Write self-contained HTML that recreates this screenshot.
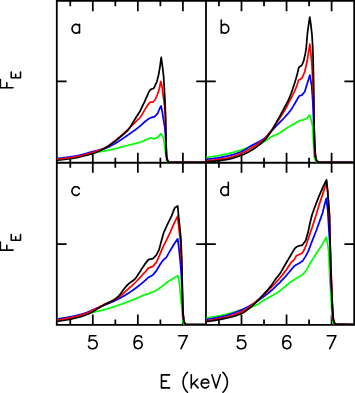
<!DOCTYPE html>
<html><head><meta charset="utf-8"><title>F_E line profiles</title>
<style>
html,body{margin:0;padding:0;background:#fff;font-family:"Liberation Sans",sans-serif;}
svg{display:block}
</style></head><body>
<svg width="355" height="393" viewBox="0 0 355 393">
<rect width="355" height="393" fill="#fff"/>
<defs>
<clipPath id="cpa"><rect x="56.80" y="0.75" width="149.20" height="162.00"/></clipPath>
<clipPath id="cpb"><rect x="206.00" y="0.75" width="148.20" height="162.00"/></clipPath>
<clipPath id="cpc"><rect x="56.80" y="162.75" width="149.20" height="162.15"/></clipPath>
<clipPath id="cpd"><rect x="206.00" y="162.75" width="148.20" height="162.15"/></clipPath>
<filter id="bl" x="-0.05" y="-0.05" width="1.1" height="1.1"><feGaussianBlur stdDeviation="0.25"/></filter>
</defs>
<g stroke="#000" stroke-width="1.80" fill="none" stroke-linecap="butt">
<path d="M55.90 0.75 H355.10 M56.80 162.75 H354.20 M55.90 324.90 H355.10"/>
<path d="M56.80 0.75 V324.90 M206.00 0.75 V324.90 M354.20 0.75 V324.90"/>
</g>
<g stroke="#000" stroke-width="1.75" fill="none" stroke-linecap="butt">
<path d="M70.28 0.75 V6.25 M70.28 157.85 V167.65 M70.28 324.90 V319.60 M92.80 0.75 V11.35 M92.80 152.75 V172.75 M92.80 324.90 V314.50 M115.32 0.75 V6.25 M115.32 157.85 V167.65 M115.32 324.90 V319.60 M137.85 0.75 V11.35 M137.85 152.75 V172.75 M137.85 324.90 V314.50 M160.38 0.75 V6.25 M160.38 157.85 V167.65 M160.38 324.90 V319.60 M182.90 0.75 V11.35 M182.90 152.75 V172.75 M182.90 324.90 V314.50 M218.97 0.75 V6.25 M218.97 157.85 V167.65 M218.97 324.90 V319.60 M241.50 0.75 V11.35 M241.50 152.75 V172.75 M241.50 324.90 V314.50 M264.02 0.75 V6.25 M264.02 157.85 V167.65 M264.02 324.90 V319.60 M286.55 0.75 V11.35 M286.55 152.75 V172.75 M286.55 324.90 V314.50 M309.07 0.75 V6.25 M309.07 157.85 V167.65 M309.07 324.90 V319.60 M331.60 0.75 V11.35 M331.60 152.75 V172.75 M331.60 324.90 V314.50 M56.80 81.40 H66.60 M196.20 81.40 H215.80 M354.20 81.40 H344.40 M56.80 244.00 H66.60 M196.20 244.00 H215.80 M354.20 244.00 H344.40"/>
</g>
<g clip-path="url(#cpa)" filter="url(#bl)" fill="none" stroke-width="1.75" stroke-linejoin="round" stroke-linecap="butt">
<polyline stroke="#00ff00" points="56.8,159.2 57.8,159.1 58.8,159.0 59.8,158.9 60.8,158.8 61.8,158.7 62.8,158.6 63.8,158.5 64.8,158.3 65.8,158.2 66.8,158.1 67.8,158.0 68.8,157.9 69.8,157.7 70.8,157.6 71.8,157.5 72.8,157.3 73.8,157.2 74.8,157.0 75.8,156.9 76.8,156.7 77.8,156.5 78.8,156.2 79.8,156.0 80.8,155.8 81.8,155.6 82.8,155.3 83.8,155.1 84.8,154.9 85.8,154.6 86.8,154.4 87.8,154.1 88.8,153.9 89.8,153.7 90.8,153.4 91.8,153.2 92.8,153.0 93.8,152.8 94.8,152.6 95.8,152.5 96.8,152.3 97.8,152.1 98.8,152.0 99.8,151.8 100.8,151.6 101.8,151.4 102.8,151.2 103.8,151.1 104.8,150.9 105.8,150.7 106.8,150.5 107.8,150.3 108.8,150.1 109.8,149.9 110.8,149.7 111.8,149.5 112.8,149.2 113.8,149.0 114.8,148.8 115.8,148.5 116.8,148.3 117.8,148.0 118.8,147.8 119.8,147.5 120.8,147.2 121.8,146.9 122.8,146.6 123.8,146.3 124.8,146.1 125.8,145.8 126.8,145.5 127.8,145.3 128.8,145.0 129.8,144.8 130.8,144.5 131.8,144.3 132.8,144.1 133.8,143.9 134.8,143.6 135.8,143.4 136.8,143.2 137.8,142.9 138.8,142.6 139.8,142.3 140.8,142.0 141.8,141.6 142.8,141.2 143.8,140.7 144.8,140.3 145.8,139.9 146.8,139.5 147.8,139.0 148.8,138.6 149.8,138.2 150.7,137.8 153.5,138.8 156.9,137.9 159.2,135.7 161.1,133.6 163.3,137.7 164.6,145.6 165.8,154.6 166.8,160.8 168.2,162.2 206.0,162.4"/>
<polyline stroke="#0000ff" points="56.8,158.6 57.8,158.4 58.8,158.3 59.8,158.2 60.8,158.1 61.8,158.0 62.8,157.9 63.8,157.7 64.8,157.6 65.8,157.5 66.8,157.3 67.8,157.2 68.8,157.1 69.8,157.0 70.8,156.8 71.8,156.7 72.8,156.6 73.8,156.4 74.8,156.2 75.8,156.1 76.8,155.9 77.8,155.6 78.8,155.4 79.8,155.2 80.8,154.9 81.8,154.7 82.8,154.4 83.8,154.2 84.8,153.9 85.8,153.6 86.8,153.3 87.8,153.0 88.8,152.7 89.8,152.4 90.8,152.2 91.8,151.9 92.8,151.6 93.8,151.3 94.8,151.1 95.8,150.9 96.8,150.6 97.8,150.4 98.8,150.2 99.8,149.9 100.8,149.6 101.8,149.4 102.8,149.1 103.8,148.8 104.8,148.5 105.8,148.2 106.8,147.8 107.8,147.3 108.8,146.9 109.8,146.4 110.8,145.8 111.8,145.3 112.8,144.8 113.8,144.2 114.8,143.7 115.8,143.1 116.8,142.5 117.8,141.9 118.8,141.2 119.8,140.6 120.8,139.9 121.8,139.3 122.8,138.6 123.8,137.9 124.8,137.2 125.8,136.5 126.8,135.8 127.8,135.1 128.8,134.4 129.8,133.7 130.8,133.0 131.8,132.3 132.8,131.6 133.8,130.9 134.8,130.2 135.8,129.4 136.8,128.7 137.8,127.9 138.8,127.1 139.8,126.3 140.8,125.5 141.8,124.5 142.8,123.6 143.8,122.6 144.8,121.8 145.8,121.0 146.8,120.2 147.8,119.5 148.8,118.8 149.8,118.3 150.8,117.8 151.8,117.4 152.8,117.1 153.8,116.8 154.6,116.6 157.5,113.7 159.7,108.5 161.1,106.0 162.3,112.0 163.7,121.0 164.9,128.2 165.9,142.2 166.5,155.7 167.3,159.8 168.9,162.2 206.0,162.4"/>
<polyline stroke="#ff0000" points="56.8,159.5 57.8,159.4 58.8,159.3 59.8,159.2 60.8,159.1 61.8,159.0 62.8,158.8 63.8,158.7 64.8,158.6 65.8,158.5 66.8,158.4 67.8,158.2 68.8,158.1 69.8,158.0 70.8,157.8 71.8,157.7 72.8,157.6 73.8,157.4 74.8,157.2 75.8,157.1 76.8,156.8 77.8,156.6 78.8,156.4 79.8,156.1 80.8,155.9 81.8,155.6 82.8,155.4 83.8,155.1 84.8,154.8 85.8,154.6 86.8,154.3 87.8,154.0 88.8,153.8 89.8,153.5 90.8,153.2 91.8,152.9 92.8,152.6 93.8,152.2 94.8,151.9 95.8,151.5 96.8,151.1 97.8,150.8 98.8,150.4 99.8,150.0 100.8,149.6 101.8,149.2 102.8,148.8 103.8,148.4 104.8,147.9 105.8,147.4 106.8,146.8 107.8,146.1 108.8,145.5 109.8,144.8 110.8,144.0 111.8,143.3 112.8,142.5 113.8,141.7 114.8,141.0 115.8,140.2 116.8,139.4 117.8,138.5 118.8,137.7 119.8,136.9 120.8,136.0 121.8,135.1 122.8,134.2 123.8,133.3 124.8,132.4 125.8,131.5 126.8,130.6 127.8,129.6 128.8,128.7 129.8,127.7 130.8,126.7 131.8,125.7 132.8,124.7 133.8,123.7 134.8,122.7 135.8,121.6 136.8,120.7 137.8,119.7 138.8,118.8 139.8,117.8 140.8,116.5 141.8,114.9 142.8,113.2 143.8,111.4 144.8,109.8 145.8,108.1 146.8,106.4 147.8,104.9 148.8,103.7 149.8,102.7 150.7,102.0 153.0,102.0 155.2,99.5 157.5,94.5 159.4,88.2 160.8,81.5 162.3,88.2 163.4,97.2 164.6,106.2 165.4,118.2 165.8,130.2 166.1,142.2 166.6,155.7 167.3,159.8 168.9,162.2 206.0,162.4"/>
<polyline stroke="#000000" points="56.8,160.2 57.8,160.1 58.8,160.0 59.8,159.9 60.8,159.8 61.8,159.7 62.8,159.6 63.8,159.5 64.8,159.3 65.8,159.2 66.8,159.1 67.8,159.0 68.8,158.9 69.8,158.7 70.8,158.6 71.8,158.5 72.8,158.3 73.8,158.2 74.8,158.0 75.8,157.8 76.8,157.6 77.8,157.4 78.8,157.2 79.8,156.9 80.8,156.7 81.8,156.4 82.8,156.2 83.8,155.9 84.8,155.6 85.8,155.4 86.8,155.1 87.8,154.9 88.8,154.6 89.8,154.4 90.8,154.1 91.8,153.8 92.8,153.5 93.8,153.1 94.8,152.8 95.8,152.4 96.8,151.9 97.8,151.5 98.8,151.1 99.8,150.6 100.8,150.2 101.8,149.7 102.8,149.3 103.8,148.8 104.8,148.3 105.8,147.7 106.8,147.1 107.8,146.4 108.8,145.8 109.8,145.1 110.8,144.4 111.8,143.6 112.8,142.9 113.8,142.2 114.8,141.4 115.8,140.7 116.8,139.9 117.8,139.1 118.8,138.3 119.8,137.4 120.8,136.6 121.8,135.8 122.8,134.9 123.8,134.0 124.8,133.1 125.8,132.2 126.8,131.3 127.8,130.3 128.2,129.9 131.0,125.8 135.2,118.8 140.1,111.0 144.5,101.8 149.0,91.7 150.7,89.3 153.5,88.5 154.6,86.7 156.9,81.5 158.6,74.8 160.1,65.8 161.2,57.4 162.5,66.8 163.6,76.2 164.3,88.2 165.0,101.8 165.6,116.2 165.8,130.2 166.0,142.2 166.4,155.7 167.1,159.7 168.7,162.2 206.0,162.4"/>
<clipPath id="cra"><rect x="56.80" y="0.75" width="43.20" height="162.00"/></clipPath>
<polyline clip-path="url(#cra)" stroke="#ff0000" stroke-width="1.2" points="56.8,159.3 57.8,159.2 58.8,159.1 59.8,159.0 60.8,158.9 61.8,158.8 62.8,158.6 63.8,158.5 64.8,158.4 65.8,158.3 66.8,158.2 67.8,158.0 68.8,157.9 69.8,157.8 70.8,157.6 71.8,157.5 72.8,157.4 73.8,157.2 74.8,157.0 75.8,156.9 76.8,156.6 77.8,156.4 78.8,156.2 79.8,155.9 80.8,155.7 81.8,155.4 82.8,155.2 83.8,154.9 84.8,154.6 85.8,154.4 86.8,154.1 87.8,153.8 88.8,153.6 89.8,153.3 90.8,153.0 91.8,152.7 92.8,152.4 93.8,152.0 94.8,151.7 95.8,151.3 96.8,150.9 97.8,150.6 98.8,150.2 99.8,149.8 100.8,149.4 101.8,149.0 102.8,148.6 103.8,148.2 104.8,147.7 105.8,147.2 106.8,146.6 107.8,145.9 108.8,145.3 109.8,144.6 110.8,143.8 111.8,143.1 112.8,142.3 113.8,141.5 114.8,140.8 115.8,140.0 116.8,139.2 117.8,138.3 118.8,137.5 119.8,136.7 120.8,135.8 121.8,134.9 122.8,134.0 123.8,133.1 124.8,132.2 125.8,131.3 126.8,130.4 127.8,129.4 128.8,128.5 129.8,127.5 130.8,126.5 131.8,125.5 132.8,124.5 133.8,123.5 134.8,122.5 135.8,121.4 136.8,120.5 137.8,119.5 138.8,118.6 139.8,117.6 140.8,116.3 141.8,114.7 142.8,113.0 143.8,111.2 144.8,109.6 145.8,107.9 146.8,106.2 147.8,104.7 148.8,103.5 149.8,102.5 150.7,101.8 153.0,102.0 155.2,99.5 157.5,94.5 159.4,88.2 160.8,81.5 162.3,88.2 163.4,97.2 164.6,106.2 165.4,118.2 165.8,130.2 166.1,142.2 166.6,155.7 167.3,159.8 168.9,162.2 206.0,162.4"/>
</g>
<g clip-path="url(#cpb)" filter="url(#bl)" fill="none" stroke-width="1.75" stroke-linejoin="round" stroke-linecap="butt">
<polyline stroke="#00ff00" points="206.0,157.5 207.0,157.4 208.0,157.3 209.0,157.1 210.0,157.0 211.0,156.8 212.0,156.7 213.0,156.5 214.0,156.4 215.0,156.2 216.0,156.0 217.0,155.9 218.0,155.7 219.0,155.5 220.0,155.3 221.0,155.1 222.0,154.9 223.0,154.7 224.0,154.5 225.0,154.3 226.0,154.1 227.0,153.9 228.0,153.6 229.0,153.4 230.0,153.1 231.0,152.9 232.0,152.6 233.0,152.4 234.0,152.1 235.0,151.8 236.0,151.5 237.0,151.2 238.0,150.9 239.0,150.6 240.0,150.3 241.0,150.0 242.0,149.7 243.0,149.3 244.0,149.0 245.0,148.6 246.0,148.3 247.0,147.9 248.0,147.5 249.0,147.1 250.0,146.7 251.0,146.3 252.0,146.0 253.0,145.6 254.0,145.2 255.0,144.8 256.0,144.5 257.0,144.2 258.0,143.9 259.0,143.6 260.0,143.3 261.0,143.0 262.0,142.6 263.0,142.2 264.0,141.8 265.0,141.3 266.0,140.6 267.0,139.9 268.0,139.1 269.0,138.3 270.0,137.6 271.0,137.0 272.0,136.5 273.0,136.0 274.0,135.6 275.0,135.2 276.0,134.8 277.0,134.3 278.0,133.9 279.0,133.3 280.0,132.7 281.0,132.0 282.0,131.3 283.0,130.5 284.0,129.8 285.0,129.2 286.0,128.6 287.0,127.9 288.0,127.3 289.0,126.8 290.0,126.2 291.0,125.6 292.0,125.0 293.0,124.4 294.0,123.9 295.0,123.3 296.0,122.7 297.0,122.1 298.0,121.6 299.0,121.0 299.6,120.7 303.6,119.8 307.0,118.3 309.6,115.0 311.1,120.0 312.6,126.2 313.4,142.2 314.1,156.8 315.5,160.8 317.0,162.2 354.2,162.4"/>
<polyline stroke="#0000ff" points="206.0,159.3 207.0,159.2 208.0,159.1 209.0,159.0 210.0,158.9 211.0,158.8 212.0,158.7 213.0,158.6 214.0,158.4 215.0,158.3 216.0,158.1 217.0,158.0 218.0,157.8 219.0,157.6 220.0,157.5 221.0,157.3 222.0,157.1 223.0,156.9 224.0,156.7 225.0,156.5 226.0,156.3 227.0,156.1 228.0,155.9 229.0,155.6 230.0,155.4 231.0,155.1 232.0,154.8 233.0,154.6 234.0,154.3 235.0,154.0 236.0,153.6 237.0,153.3 238.0,152.9 239.0,152.6 240.0,152.2 241.0,151.8 242.0,151.4 243.0,150.9 244.0,150.3 245.0,149.7 246.0,149.0 247.0,148.4 248.0,147.7 249.0,147.1 250.0,146.4 251.0,145.9 252.0,145.3 253.0,144.8 254.0,144.3 255.0,143.8 256.0,143.3 257.0,142.8 258.0,142.3 259.0,141.8 260.0,141.2 261.0,140.6 262.0,140.0 263.0,139.3 264.0,138.6 265.0,137.8 266.0,136.9 267.0,135.8 268.0,134.8 269.0,133.6 270.0,132.5 271.0,131.5 272.0,130.4 273.0,129.4 274.0,128.3 275.0,127.3 276.0,126.2 277.0,125.2 278.0,124.2 279.0,123.1 280.0,122.1 281.0,121.1 282.0,120.1 283.0,119.1 284.0,118.0 285.0,117.0 286.0,115.8 287.0,114.7 288.0,113.6 289.0,112.3 290.0,111.1 291.0,109.7 292.0,108.2 293.0,106.6 294.0,104.9 295.0,103.2 296.0,101.5 297.0,99.8 298.0,98.0 299.0,96.2 299.1,96.0 301.9,95.2 304.7,91.8 306.1,87.2 309.8,75.2 311.7,85.8 312.9,103.2 313.8,126.2 314.6,147.8 315.4,156.8 316.4,160.2 318.2,162.2 354.2,162.4"/>
<polyline stroke="#ff0000" points="206.0,160.6 207.0,160.6 208.0,160.5 209.0,160.5 210.0,160.4 211.0,160.4 212.0,160.3 213.0,160.2 214.0,160.1 215.0,160.0 216.0,159.8 217.0,159.7 218.0,159.6 219.0,159.4 220.0,159.3 221.0,159.1 222.0,158.9 223.0,158.8 224.0,158.6 225.0,158.4 226.0,158.3 227.0,158.1 228.0,157.9 229.0,157.6 230.0,157.4 231.0,157.1 232.0,156.8 233.0,156.5 234.0,156.2 235.0,155.8 236.0,155.5 237.0,155.1 238.0,154.8 239.0,154.4 240.0,154.0 241.0,153.6 242.0,153.2 243.0,152.7 244.0,152.2 245.0,151.7 246.0,151.1 247.0,150.6 248.0,150.0 249.0,149.4 250.0,148.8 251.0,148.2 252.0,147.6 253.0,147.0 254.0,146.4 255.0,145.8 256.0,145.2 257.0,144.5 258.0,143.9 259.0,143.2 260.0,142.5 261.0,141.8 262.0,141.0 263.0,140.2 264.0,139.3 265.0,138.4 266.0,137.3 267.0,136.2 268.0,134.9 269.0,133.6 270.0,132.3 271.0,131.0 272.0,129.6 273.0,128.2 274.0,126.8 275.0,125.3 276.0,123.8 277.0,122.3 278.0,120.8 279.0,119.2 280.0,117.7 281.0,116.2 282.0,114.6 283.0,113.1 284.0,111.4 285.0,109.7 286.0,108.0 287.0,106.1 288.0,104.2 289.0,102.2 290.0,100.2 291.0,98.3 292.0,96.3 293.0,94.3 294.0,92.3 295.0,90.1 296.0,87.8 297.0,85.1 298.0,82.0 298.5,80.3 301.9,78.2 304.7,72.0 307.0,61.8 309.2,48.2 309.8,44.0 310.4,48.2 312.0,66.2 313.0,86.2 313.7,100.2 314.0,125.2 314.8,147.8 315.5,156.8 316.5,160.2 318.2,162.2 354.2,162.4"/>
<polyline stroke="#000000" points="206.0,161.6 207.0,161.6 208.0,161.6 209.0,161.5 210.0,161.5 211.0,161.4 212.0,161.4 213.0,161.3 214.0,161.2 215.0,161.1 216.0,161.0 217.0,160.9 218.0,160.8 219.0,160.7 220.0,160.5 221.0,160.4 222.0,160.3 223.0,160.1 224.0,160.0 225.0,159.8 226.0,159.7 227.0,159.5 228.0,159.3 229.0,159.1 230.0,158.9 231.0,158.6 232.0,158.3 233.0,158.1 234.0,157.8 235.0,157.4 236.0,157.1 237.0,156.8 238.0,156.4 239.0,156.1 240.0,155.7 241.0,155.4 242.0,155.0 243.0,154.6 244.0,154.2 245.0,153.7 246.0,153.2 247.0,152.7 248.0,152.2 249.0,151.6 250.0,151.1 251.0,150.5 252.0,149.9 253.0,149.3 254.0,148.6 255.0,148.0 256.0,147.3 257.0,146.6 258.0,145.8 259.0,145.1 260.0,144.3 261.0,143.5 262.0,142.6 263.0,141.7 264.0,140.7 265.0,139.7 266.0,138.6 267.0,137.3 268.0,136.0 269.0,134.6 270.0,133.2 271.0,131.7 272.0,130.2 273.0,128.5 274.0,126.7 275.0,124.9 276.0,123.1 277.0,121.2 278.0,119.4 279.0,117.6 280.0,115.8 281.0,114.0 282.0,112.1 283.0,110.3 284.0,108.4 285.0,106.5 286.0,104.7 287.0,102.8 288.0,100.8 289.0,98.7 290.0,96.4 291.0,93.8 292.0,91.0 293.0,88.0 294.0,85.1 295.0,81.9 296.0,78.6 297.0,75.0 298.0,70.9 298.7,67.9 299.6,66.8 301.9,65.2 303.6,61.2 305.3,53.9 306.2,48.2 307.5,32.8 308.9,22.6 309.8,17.1 310.9,24.9 312.0,35.0 312.8,48.2 313.3,66.2 313.7,86.2 314.1,125.2 314.9,147.8 315.6,156.8 316.5,160.2 318.2,162.2 354.2,162.4"/>
<clipPath id="crb"><rect x="206.00" y="0.75" width="0.00" height="162.00"/></clipPath>
<polyline clip-path="url(#crb)" stroke="#ff0000" stroke-width="1.2" points="206.0,160.4 207.0,160.4 208.0,160.3 209.0,160.3 210.0,160.2 211.0,160.2 212.0,160.1 213.0,160.0 214.0,159.9 215.0,159.8 216.0,159.6 217.0,159.5 218.0,159.4 219.0,159.2 220.0,159.1 221.0,158.9 222.0,158.7 223.0,158.6 224.0,158.4 225.0,158.2 226.0,158.1 227.0,157.9 228.0,157.7 229.0,157.4 230.0,157.2 231.0,156.9 232.0,156.6 233.0,156.3 234.0,156.0 235.0,155.6 236.0,155.3 237.0,154.9 238.0,154.6 239.0,154.2 240.0,153.8 241.0,153.4 242.0,153.0 243.0,152.5 244.0,152.0 245.0,151.5 246.0,150.9 247.0,150.4 248.0,149.8 249.0,149.2 250.0,148.6 251.0,148.0 252.0,147.4 253.0,146.8 254.0,146.2 255.0,145.6 256.0,145.0 257.0,144.3 258.0,143.7 259.0,143.0 260.0,142.3 261.0,141.6 262.0,140.8 263.0,140.0 264.0,139.1 265.0,138.2 266.0,137.1 267.0,136.0 268.0,134.7 269.0,133.4 270.0,132.1 271.0,130.8 272.0,129.4 273.0,128.0 274.0,126.6 275.0,125.1 276.0,123.6 277.0,122.1 278.0,120.6 279.0,119.0 280.0,117.5 281.0,116.0 282.0,114.4 283.0,112.9 284.0,111.2 285.0,109.5 286.0,107.8 287.0,105.9 288.0,104.0 289.0,102.0 290.0,100.0 291.0,98.1 292.0,96.1 293.0,94.1 294.0,92.1 295.0,89.9 296.0,87.6 297.0,84.9 298.0,81.8 298.5,80.1 301.9,78.2 304.7,72.0 307.0,61.8 309.2,48.2 309.8,44.0 310.4,48.2 312.0,66.2 313.0,86.2 313.7,100.2 314.0,125.2 314.8,147.8 315.5,156.8 316.5,160.2 318.2,162.2 354.2,162.4"/>
</g>
<g clip-path="url(#cpc)" filter="url(#bl)" fill="none" stroke-width="1.75" stroke-linejoin="round" stroke-linecap="butt">
<polyline stroke="#00ff00" points="56.8,319.1 57.8,318.9 58.8,318.8 59.8,318.7 60.8,318.5 61.8,318.4 62.8,318.3 63.8,318.1 64.8,318.0 65.8,317.8 66.8,317.6 67.8,317.5 68.8,317.3 69.8,317.2 70.8,317.0 71.8,316.8 72.8,316.6 73.8,316.5 74.8,316.3 75.8,316.1 76.8,315.9 77.8,315.7 78.8,315.5 79.8,315.3 80.8,315.1 81.8,314.9 82.8,314.7 83.8,314.4 84.8,314.2 85.8,314.0 86.8,313.8 87.8,313.5 88.8,313.3 89.8,313.0 90.8,312.8 91.8,312.5 92.8,312.3 93.8,312.1 94.8,311.9 95.8,311.7 96.8,311.5 97.8,311.3 98.8,311.1 99.8,310.9 100.8,310.7 101.8,310.4 102.8,310.2 103.8,309.9 104.8,309.6 105.8,309.3 106.8,309.0 107.8,308.7 108.8,308.4 109.8,308.1 110.8,307.7 111.8,307.4 112.8,307.1 113.8,306.8 114.8,306.4 115.8,306.1 116.8,305.7 117.8,305.4 118.8,305.0 119.8,304.7 120.8,304.3 121.8,304.0 122.8,303.6 123.8,303.3 124.8,302.9 125.8,302.5 126.8,302.2 127.8,301.8 128.8,301.4 129.8,301.0 130.8,300.7 131.8,300.3 132.8,299.9 133.8,299.5 134.8,299.1 135.8,298.7 136.8,298.3 137.8,297.8 138.8,297.4 139.8,296.9 140.8,296.3 141.8,295.9 142.8,295.5 143.8,295.1 144.8,294.7 145.8,294.4 146.8,294.1 147.8,293.8 148.8,293.5 149.8,293.1 150.8,292.7 151.8,292.4 152.8,292.0 153.8,291.5 154.8,291.1 155.8,290.6 156.8,290.0 157.8,289.4 158.8,288.7 159.8,288.0 160.8,287.3 161.8,286.6 162.8,285.8 163.8,284.9 164.8,284.1 165.8,283.2 166.8,282.5 167.8,281.8 168.8,281.1 169.8,280.5 170.8,279.9 171.8,279.4 172.8,278.8 173.8,278.1 174.8,277.5 175.8,276.9 176.8,276.3 177.8,275.6 179.2,281.6 180.6,295.9 182.1,311.6 183.0,322.2 184.5,324.4 206.0,324.6"/>
<polyline stroke="#0000ff" points="56.8,319.1 57.8,319.0 58.8,318.9 59.8,318.7 60.8,318.6 61.8,318.4 62.8,318.3 63.8,318.1 64.8,317.9 65.8,317.7 66.8,317.5 67.8,317.3 68.8,317.1 69.8,316.9 70.8,316.7 71.8,316.5 72.8,316.3 73.8,316.1 74.8,315.8 75.8,315.6 76.8,315.4 77.8,315.1 78.8,314.9 79.8,314.6 80.8,314.4 81.8,314.1 82.8,313.8 83.8,313.5 84.8,313.2 85.8,312.8 86.8,312.5 87.8,312.1 88.8,311.6 89.8,311.2 90.8,310.7 91.8,310.3 92.8,309.8 93.8,309.4 94.8,309.0 95.8,308.5 96.8,308.1 97.8,307.7 98.8,307.2 99.8,306.8 100.8,306.4 101.8,306.1 102.8,305.7 103.8,305.3 104.8,304.9 105.8,304.5 106.8,304.1 107.8,303.7 108.8,303.3 109.8,302.9 110.8,302.4 111.8,302.0 112.8,301.6 113.8,301.1 114.8,300.6 115.8,300.1 116.8,299.6 117.8,299.1 118.8,298.6 119.8,298.1 120.8,297.6 121.8,297.1 122.8,296.5 123.8,295.9 124.8,295.4 125.8,294.8 126.8,294.2 127.8,293.6 128.8,293.0 129.8,292.3 130.8,291.6 131.8,290.9 132.8,290.2 133.8,289.5 134.8,288.7 135.8,288.0 136.8,287.2 137.8,286.5 138.8,285.7 139.8,284.9 140.8,284.1 141.8,283.3 142.8,282.4 143.8,281.6 144.8,280.7 145.8,279.8 146.8,278.9 147.8,278.0 148.4,277.4 152.9,274.9 156.3,270.9 159.6,265.2 163.0,260.2 166.4,257.4 169.8,251.2 174.3,243.8 177.7,238.8 179.1,249.6 180.7,266.4 181.5,278.2 182.2,295.2 183.0,313.2 183.9,321.8 185.6,324.4 206.0,324.6"/>
<polyline stroke="#ff0000" points="56.8,320.2 57.8,320.1 58.8,319.9 59.8,319.8 60.8,319.7 61.8,319.5 62.8,319.3 63.8,319.2 64.8,319.0 65.8,318.8 66.8,318.6 67.8,318.4 68.8,318.2 69.8,318.0 70.8,317.8 71.8,317.6 72.8,317.3 73.8,317.1 74.8,316.9 75.8,316.7 76.8,316.4 77.8,316.2 78.8,315.9 79.8,315.6 80.8,315.3 81.8,315.0 82.8,314.7 83.8,314.4 84.8,314.1 85.8,313.7 86.8,313.3 87.8,312.9 88.8,312.5 89.8,312.0 90.8,311.5 91.8,311.0 92.8,310.5 93.8,310.0 94.8,309.5 95.8,309.0 96.8,308.4 97.8,307.9 98.8,307.3 99.8,306.8 100.8,306.2 101.8,305.7 102.8,305.2 103.8,304.6 104.8,304.1 105.8,303.7 106.8,303.2 107.8,302.8 108.8,302.4 109.8,302.0 110.8,301.5 111.8,301.1 112.8,300.6 113.8,300.1 114.8,299.6 115.8,299.0 116.8,298.3 117.8,297.7 118.8,297.0 119.8,296.2 120.8,295.5 121.8,294.7 122.8,293.9 123.8,293.0 124.8,292.1 125.8,291.2 126.8,290.2 127.8,289.3 128.8,288.4 129.8,287.5 130.8,286.7 131.8,285.8 132.8,284.9 133.8,284.0 134.8,283.0 135.8,282.0 136.8,281.0 137.8,279.9 138.8,278.8 139.8,277.7 140.8,276.6 141.8,275.5 142.8,274.4 143.8,273.3 144.8,272.3 145.5,271.6 148.4,268.1 152.9,266.4 156.3,262.4 159.6,255.2 163.0,246.8 166.5,240.2 170.4,231.8 174.3,222.8 177.7,216.1 178.9,228.4 180.3,240.2 181.7,262.2 182.3,288.2 183.0,312.9 183.9,321.6 185.6,324.4 206.0,324.6"/>
<polyline stroke="#000000" points="56.8,321.3 57.8,321.2 58.8,321.1 59.8,321.0 60.8,320.8 61.8,320.7 62.8,320.5 63.8,320.4 64.8,320.2 65.8,320.0 66.8,319.9 67.8,319.7 68.8,319.5 69.8,319.3 70.8,319.1 71.8,318.9 72.8,318.6 73.8,318.4 74.8,318.2 75.8,318.0 76.8,317.7 77.8,317.5 78.8,317.2 79.8,316.9 80.8,316.6 81.8,316.3 82.8,316.0 83.8,315.6 84.8,315.3 85.8,314.9 86.8,314.5 87.8,314.1 88.8,313.6 89.8,313.1 90.8,312.6 91.8,312.1 92.8,311.6 93.8,311.0 94.8,310.4 95.8,309.8 96.8,309.2 97.8,308.6 98.8,308.0 99.8,307.4 100.8,306.8 101.8,306.2 102.8,305.7 103.8,305.1 104.8,304.6 105.8,304.0 106.8,303.5 107.8,303.1 108.8,302.6 109.8,302.1 110.8,301.6 111.8,301.1 112.8,300.6 113.8,299.9 114.8,299.3 115.8,298.5 116.8,297.7 117.8,296.8 118.8,295.8 119.8,294.7 120.8,293.5 121.8,292.1 122.8,290.6 123.8,289.3 124.8,288.0 125.8,286.8 126.8,285.7 127.8,284.6 128.8,283.7 129.8,282.9 130.8,282.2 131.8,281.5 132.8,280.7 133.8,280.0 134.8,279.1 135.8,278.0 136.8,276.6 137.8,275.1 138.8,273.6 139.8,272.1 140.8,270.5 141.8,268.8 142.8,267.3 143.8,265.7 144.8,264.2 145.0,263.9 148.4,259.6 152.9,258.6 156.3,255.2 159.1,249.6 161.3,241.2 163.6,232.9 167.5,224.4 171.5,216.1 174.5,208.4 175.5,207.2 177.7,205.9 178.6,216.1 179.9,228.4 181.0,240.2 181.8,262.2 182.3,286.2 183.0,312.9 183.9,321.6 185.6,324.4 206.0,324.6"/>
<clipPath id="crc"><rect x="56.80" y="162.75" width="39.20" height="162.15"/></clipPath>
<polyline clip-path="url(#crc)" stroke="#ff0000" stroke-width="1.2" points="56.8,320.0 57.8,319.9 58.8,319.7 59.8,319.6 60.8,319.5 61.8,319.3 62.8,319.1 63.8,319.0 64.8,318.8 65.8,318.6 66.8,318.4 67.8,318.2 68.8,318.0 69.8,317.8 70.8,317.6 71.8,317.4 72.8,317.1 73.8,316.9 74.8,316.7 75.8,316.5 76.8,316.2 77.8,316.0 78.8,315.7 79.8,315.4 80.8,315.1 81.8,314.8 82.8,314.5 83.8,314.2 84.8,313.9 85.8,313.5 86.8,313.1 87.8,312.7 88.8,312.3 89.8,311.8 90.8,311.3 91.8,310.8 92.8,310.3 93.8,309.8 94.8,309.3 95.8,308.8 96.8,308.2 97.8,307.7 98.8,307.1 99.8,306.6 100.8,306.0 101.8,305.5 102.8,305.0 103.8,304.4 104.8,303.9 105.8,303.5 106.8,303.0 107.8,302.6 108.8,302.2 109.8,301.8 110.8,301.3 111.8,300.9 112.8,300.4 113.8,299.9 114.8,299.4 115.8,298.8 116.8,298.1 117.8,297.5 118.8,296.8 119.8,296.0 120.8,295.3 121.8,294.5 122.8,293.7 123.8,292.8 124.8,291.9 125.8,291.0 126.8,290.0 127.8,289.1 128.8,288.2 129.8,287.3 130.8,286.5 131.8,285.6 132.8,284.7 133.8,283.8 134.8,282.8 135.8,281.8 136.8,280.8 137.8,279.7 138.8,278.6 139.8,277.5 140.8,276.4 141.8,275.3 142.8,274.2 143.8,273.1 144.8,272.1 145.5,271.4 148.4,268.1 152.9,266.4 156.3,262.4 159.6,255.2 163.0,246.8 166.5,240.2 170.4,231.8 174.3,222.8 177.7,216.1 178.9,228.4 180.3,240.2 181.7,262.2 182.3,288.2 183.0,312.9 183.9,321.6 185.6,324.4 206.0,324.6"/>
</g>
<g clip-path="url(#cpd)" filter="url(#bl)" fill="none" stroke-width="1.75" stroke-linejoin="round" stroke-linecap="butt">
<polyline stroke="#00ff00" points="206.0,317.9 207.0,317.8 208.0,317.6 209.0,317.5 210.0,317.3 211.0,317.2 212.0,317.0 213.0,316.9 214.0,316.7 215.0,316.5 216.0,316.3 217.0,316.1 218.0,316.0 219.0,315.8 220.0,315.6 221.0,315.4 222.0,315.1 223.0,314.9 224.0,314.7 225.0,314.5 226.0,314.3 227.0,314.0 228.0,313.8 229.0,313.5 230.0,313.3 231.0,313.0 232.0,312.7 233.0,312.4 234.0,312.1 235.0,311.8 236.0,311.5 237.0,311.2 238.0,310.9 239.0,310.6 240.0,310.3 241.0,310.0 242.0,309.7 243.0,309.4 244.0,309.2 245.0,308.9 246.0,308.6 247.0,308.3 248.0,308.1 249.0,307.8 250.0,307.5 251.0,307.2 252.0,306.8 253.0,306.5 254.0,306.1 255.0,305.7 256.0,305.3 257.0,304.7 258.0,304.2 259.0,303.5 260.0,302.8 261.0,302.1 262.0,301.4 263.0,300.7 264.0,300.1 265.0,299.5 266.0,299.0 267.0,298.5 268.0,297.9 269.0,297.4 270.0,296.9 271.0,296.3 272.0,295.7 273.0,295.2 274.0,294.6 275.0,294.0 276.0,293.5 277.0,292.8 278.0,292.2 279.0,291.5 280.0,290.7 281.0,289.9 282.0,289.1 283.0,288.3 284.0,287.4 285.0,286.6 286.0,285.8 287.0,285.0 288.0,284.1 289.0,283.3 290.0,282.5 291.0,281.8 292.0,281.1 293.0,280.4 294.0,279.8 295.0,279.1 296.0,278.5 297.0,277.9 298.0,277.3 299.0,276.8 300.0,276.2 301.0,275.6 302.0,274.9 303.0,274.1 304.0,273.0 305.0,271.8 306.0,270.4 307.0,268.9 308.0,267.2 309.0,265.3 310.0,263.3 311.0,261.7 312.0,260.3 313.0,258.8 314.0,257.3 315.0,255.7 316.0,254.0 317.0,252.4 318.0,250.9 319.0,249.5 320.0,248.1 321.0,246.5 322.0,244.9 326.3,237.1 327.7,244.9 328.8,252.2 329.8,279.2 331.1,298.6 332.1,316.1 333.0,322.2 334.5,324.4 354.2,324.6"/>
<polyline stroke="#0000ff" points="206.0,319.4 207.0,319.3 208.0,319.2 209.0,319.0 210.0,318.9 211.0,318.8 212.0,318.6 213.0,318.4 214.0,318.2 215.0,318.1 216.0,317.9 217.0,317.7 218.0,317.4 219.0,317.2 220.0,317.0 221.0,316.8 222.0,316.5 223.0,316.3 224.0,316.0 225.0,315.8 226.0,315.5 227.0,315.3 228.0,315.0 229.0,314.7 230.0,314.3 231.0,314.0 232.0,313.7 233.0,313.3 234.0,312.9 235.0,312.5 236.0,312.2 237.0,311.8 238.0,311.4 239.0,310.9 240.0,310.5 241.0,310.1 242.0,309.7 243.0,309.2 244.0,308.8 245.0,308.3 246.0,307.8 247.0,307.3 248.0,306.7 249.0,306.2 250.0,305.6 251.0,305.1 252.0,304.5 253.0,303.9 254.0,303.3 255.0,302.6 256.0,302.0 257.0,301.4 258.0,300.7 259.0,300.0 260.0,299.3 261.0,298.6 262.0,297.9 263.0,297.2 264.0,296.4 265.0,295.7 266.0,294.9 267.0,294.1 268.0,293.3 269.0,292.5 270.0,291.7 271.0,290.8 272.0,290.0 273.0,289.1 274.0,288.1 275.0,287.2 276.0,286.2 277.0,285.2 278.0,284.2 279.0,283.3 280.0,282.3 281.0,281.2 282.0,280.2 283.0,279.2 284.0,278.1 285.0,277.0 286.0,275.9 287.0,274.7 288.0,273.5 289.0,272.3 290.0,271.1 291.0,269.9 292.0,268.7 293.0,267.6 294.0,266.4 294.6,265.8 299.2,263.2 302.5,261.1 305.4,256.6 308.1,251.6 311.9,241.6 316.4,230.2 320.4,219.1 322.6,212.8 324.3,205.7 326.3,198.3 327.7,209.8 328.9,229.2 330.2,250.2 331.1,279.2 332.4,308.2 333.4,319.9 335.0,324.2 354.2,324.6"/>
<polyline stroke="#ff0000" points="206.0,320.7 207.0,320.6 208.0,320.5 209.0,320.4 210.0,320.3 211.0,320.1 212.0,320.0 213.0,319.8 214.0,319.6 215.0,319.5 216.0,319.3 217.0,319.1 218.0,318.9 219.0,318.7 220.0,318.5 221.0,318.3 222.0,318.0 223.0,317.8 224.0,317.6 225.0,317.4 226.0,317.1 227.0,316.9 228.0,316.6 229.0,316.3 230.0,316.0 231.0,315.7 232.0,315.4 233.0,315.1 234.0,314.7 235.0,314.4 236.0,314.0 237.0,313.6 238.0,313.2 239.0,312.8 240.0,312.4 241.0,311.9 242.0,311.5 243.0,310.9 244.0,310.4 245.0,309.8 246.0,309.1 247.0,308.5 248.0,307.8 249.0,307.1 250.0,306.4 251.0,305.6 252.0,304.8 253.0,304.0 254.0,303.2 255.0,302.3 256.0,301.5 257.0,300.6 258.0,299.8 259.0,299.0 260.0,298.1 261.0,297.2 262.0,296.4 263.0,295.5 264.0,294.5 265.0,293.6 266.0,292.7 267.0,291.7 268.0,290.7 269.0,289.7 270.0,288.7 271.0,287.7 272.0,286.6 273.0,285.6 274.0,284.5 275.0,283.5 276.0,282.4 277.0,281.3 278.0,280.2 279.0,279.0 280.0,277.8 281.0,276.6 282.0,275.4 283.0,274.1 284.0,272.8 285.0,271.5 286.0,270.2 287.0,268.8 288.0,267.3 289.0,265.8 290.0,264.3 291.0,262.7 291.3,262.2 294.1,259.9 296.3,255.9 298.6,254.8 302.0,253.2 304.2,249.8 306.2,245.1 309.6,234.8 313.0,224.7 316.2,214.8 319.2,204.6 322.6,194.4 326.0,183.8 326.6,181.8 327.8,192.2 328.7,204.6 329.5,215.2 330.1,240.2 331.0,270.2 332.1,298.2 332.8,312.2 333.4,319.9 335.0,324.2 354.2,324.6"/>
<polyline stroke="#000000" points="206.0,321.6 207.0,321.5 208.0,321.4 209.0,321.3 210.0,321.1 211.0,321.0 212.0,320.9 213.0,320.7 214.0,320.6 215.0,320.4 216.0,320.2 217.0,320.0 218.0,319.9 219.0,319.7 220.0,319.5 221.0,319.3 222.0,319.1 223.0,318.9 224.0,318.7 225.0,318.4 226.0,318.2 227.0,318.0 228.0,317.8 229.0,317.5 230.0,317.3 231.0,317.0 232.0,316.8 233.0,316.5 234.0,316.2 235.0,315.9 236.0,315.6 237.0,315.2 238.0,314.9 239.0,314.5 240.0,314.1 241.0,313.7 242.0,313.3 243.0,312.8 244.0,312.2 245.0,311.5 246.0,310.8 247.0,310.1 248.0,309.3 249.0,308.5 250.0,307.8 251.0,307.0 252.0,306.1 253.0,305.2 254.0,304.3 255.0,303.4 256.0,302.4 257.0,301.4 258.0,300.4 259.0,299.4 260.0,298.3 261.0,297.2 262.0,296.1 263.0,295.0 264.0,293.9 265.0,292.8 266.0,291.7 267.0,290.6 268.0,289.5 269.0,288.3 270.0,287.1 271.0,285.9 272.0,284.5 273.0,283.0 274.0,281.4 275.0,279.9 276.0,278.5 277.0,277.3 278.0,276.1 279.0,274.8 280.0,273.4 281.0,271.9 282.0,270.3 283.0,268.5 284.0,266.7 285.0,265.0 286.0,263.2 287.0,261.5 288.0,259.9 289.0,258.2 290.0,256.5 291.0,254.8 292.0,253.1 293.0,251.4 294.0,249.7 294.6,248.7 296.9,246.7 299.0,245.8 302.2,245.2 305.7,240.4 308.0,232.6 310.2,222.3 312.2,214.2 315.3,205.7 319.2,195.6 323.2,186.6 326.5,179.9 327.7,192.2 328.6,204.6 329.4,215.2 330.0,240.2 330.9,270.2 332.0,298.2 332.7,312.2 333.4,319.9 335.0,324.2 354.2,324.6"/>
<clipPath id="crd"><rect x="206.00" y="162.75" width="0.00" height="162.15"/></clipPath>
<polyline clip-path="url(#crd)" stroke="#ff0000" stroke-width="1.2" points="206.0,320.5 207.0,320.4 208.0,320.3 209.0,320.2 210.0,320.1 211.0,319.9 212.0,319.8 213.0,319.6 214.0,319.4 215.0,319.3 216.0,319.1 217.0,318.9 218.0,318.7 219.0,318.5 220.0,318.3 221.0,318.1 222.0,317.8 223.0,317.6 224.0,317.4 225.0,317.2 226.0,316.9 227.0,316.7 228.0,316.4 229.0,316.1 230.0,315.8 231.0,315.5 232.0,315.2 233.0,314.9 234.0,314.5 235.0,314.2 236.0,313.8 237.0,313.4 238.0,313.0 239.0,312.6 240.0,312.2 241.0,311.7 242.0,311.3 243.0,310.7 244.0,310.2 245.0,309.6 246.0,308.9 247.0,308.3 248.0,307.6 249.0,306.9 250.0,306.2 251.0,305.4 252.0,304.6 253.0,303.8 254.0,303.0 255.0,302.1 256.0,301.3 257.0,300.4 258.0,299.6 259.0,298.8 260.0,297.9 261.0,297.0 262.0,296.2 263.0,295.3 264.0,294.3 265.0,293.4 266.0,292.5 267.0,291.5 268.0,290.5 269.0,289.5 270.0,288.5 271.0,287.5 272.0,286.4 273.0,285.4 274.0,284.3 275.0,283.3 276.0,282.2 277.0,281.1 278.0,280.0 279.0,278.8 280.0,277.6 281.0,276.4 282.0,275.2 283.0,273.9 284.0,272.6 285.0,271.3 286.0,270.0 287.0,268.6 288.0,267.1 289.0,265.6 290.0,264.1 291.0,262.5 291.3,262.1 294.1,259.9 296.3,255.9 298.6,254.8 302.0,253.2 304.2,249.8 306.2,245.1 309.6,234.8 313.0,224.7 316.2,214.8 319.2,204.6 322.6,194.4 326.0,183.8 326.6,181.8 327.8,192.2 328.7,204.6 329.5,215.2 330.1,240.2 331.0,270.2 332.1,298.2 332.8,312.2 333.4,319.9 335.0,324.2 354.2,324.6"/>
</g>
<g id="labels" fill="none" stroke="#000" stroke-width="1.60" stroke-linecap="round" stroke-linejoin="round">
<path d="M95.90 335.68 L89.70 335.68 L89.08 341.26 L89.70 340.64 L91.56 340.02 L93.42 340.02 L95.28 340.64 L96.52 341.88 L97.14 343.74 L97.14 344.98 L96.52 346.84 L95.28 348.08 L93.42 348.70 L91.56 348.70 L89.70 348.08 L89.08 347.46 L88.46 346.22"/>
<path d="M141.57 337.54 L140.95 336.30 L139.09 335.68 L137.85 335.68 L135.99 336.30 L134.75 338.16 L134.13 341.26 L134.13 344.36 L134.75 346.84 L135.99 348.08 L137.85 348.70 L138.47 348.70 L140.33 348.08 L141.57 346.84 L142.19 344.98 L142.19 344.36 L141.57 342.50 L140.33 341.26 L138.47 340.64 L137.85 340.64 L135.99 341.26 L134.75 342.50 L134.13 344.36"/>
<path d="M187.24 335.68 L181.04 348.70 M178.56 335.68 L187.24 335.68"/>
<path d="M244.60 335.68 L238.40 335.68 L237.78 341.26 L238.40 340.64 L240.26 340.02 L242.12 340.02 L243.98 340.64 L245.22 341.88 L245.84 343.74 L245.84 344.98 L245.22 346.84 L243.98 348.08 L242.12 348.70 L240.26 348.70 L238.40 348.08 L237.78 347.46 L237.16 346.22"/>
<path d="M290.27 337.54 L289.65 336.30 L287.79 335.68 L286.55 335.68 L284.69 336.30 L283.45 338.16 L282.83 341.26 L282.83 344.36 L283.45 346.84 L284.69 348.08 L286.55 348.70 L287.17 348.70 L289.03 348.08 L290.27 346.84 L290.89 344.98 L290.89 344.36 L290.27 342.50 L289.03 341.26 L287.17 340.64 L286.55 340.64 L284.69 341.26 L283.45 342.50 L282.83 344.36"/>
<path d="M335.94 335.68 L329.74 348.70 M327.26 335.68 L335.94 335.68"/>
<path d="M161.50 374.88 L161.50 387.90 M161.50 374.88 L169.56 374.88 M161.50 381.08 L166.46 381.08 M161.50 387.90 L169.56 387.90"/>
<path d="M187.46 372.40 L186.22 373.64 L184.98 375.50 L183.74 377.98 L183.12 381.08 L183.12 383.56 L183.74 386.66 L184.98 389.14 L186.22 391.00 L187.46 392.24"/>
<path d="M191.30 374.88 L191.30 387.90 M197.50 379.22 L191.30 385.42 M193.78 382.94 L198.12 387.90"/>
<path d="M201.22 382.94 L208.66 382.94 L208.66 381.70 L208.04 380.46 L207.42 379.84 L206.18 379.22 L204.32 379.22 L203.08 379.84 L201.84 381.08 L201.22 382.94 L201.22 384.18 L201.84 386.04 L203.08 387.28 L204.32 387.90 L206.18 387.90 L207.42 387.28 L208.66 386.04"/>
<path d="M211.95 374.88 L216.10 387.90 M220.25 374.88 L216.10 387.90"/>
<path d="M222.99 372.40 L224.23 373.64 L225.47 375.50 L226.71 377.98 L227.33 381.08 L227.33 383.56 L226.71 386.66 L225.47 389.14 L224.23 391.00 L222.99 392.24"/>
<path d="M79.50 24.42 L79.50 33.10 M79.50 26.28 L78.26 25.04 L77.02 24.42 L75.16 24.42 L73.92 25.04 L72.68 26.28 L72.06 28.14 L72.06 29.38 L72.68 31.24 L73.92 32.48 L75.16 33.10 L77.02 33.10 L78.26 32.48 L79.50 31.24"/>
<path d="M221.28 20.08 L221.28 33.10 M221.28 26.28 L222.52 25.04 L223.76 24.42 L225.62 24.42 L226.86 25.04 L228.10 26.28 L228.72 28.14 L228.72 29.38 L228.10 31.24 L226.86 32.48 L225.62 33.10 L223.76 33.10 L222.52 32.48 L221.28 31.24"/>
<path d="M79.40 188.58 L78.16 187.34 L76.92 186.72 L75.06 186.72 L73.82 187.34 L72.58 188.58 L71.96 190.44 L71.96 191.68 L72.58 193.54 L73.82 194.78 L75.06 195.40 L76.92 195.40 L78.16 194.78 L79.40 193.54"/>
<path d="M228.30 182.38 L228.30 195.40 M228.30 188.58 L227.06 187.34 L225.82 186.72 L223.96 186.72 L222.72 187.34 L221.48 188.58 L220.86 190.44 L220.86 191.68 L221.48 193.54 L222.72 194.78 L223.96 195.40 L225.82 195.40 L227.06 194.78 L228.30 193.54"/>
<path d="M0.35 87.72 L13.00 87.72 M0.35 87.72 L0.35 79.66 M6.80 87.72 L6.80 82.76"/>
<path d="M11.26 77.80 L20.50 77.80 M11.26 77.80 L11.26 72.08 M15.66 77.80 L15.66 74.28 M20.50 77.80 L20.50 72.08"/>
<path d="M0.35 250.17 L13.00 250.17 M0.35 250.17 L0.35 242.11 M6.80 250.17 L6.80 245.21"/>
<path d="M11.26 240.25 L20.50 240.25 M11.26 240.25 L11.26 234.53 M15.66 240.25 L15.66 236.73 M20.50 240.25 L20.50 234.53"/>
</g>

</svg></body></html>
